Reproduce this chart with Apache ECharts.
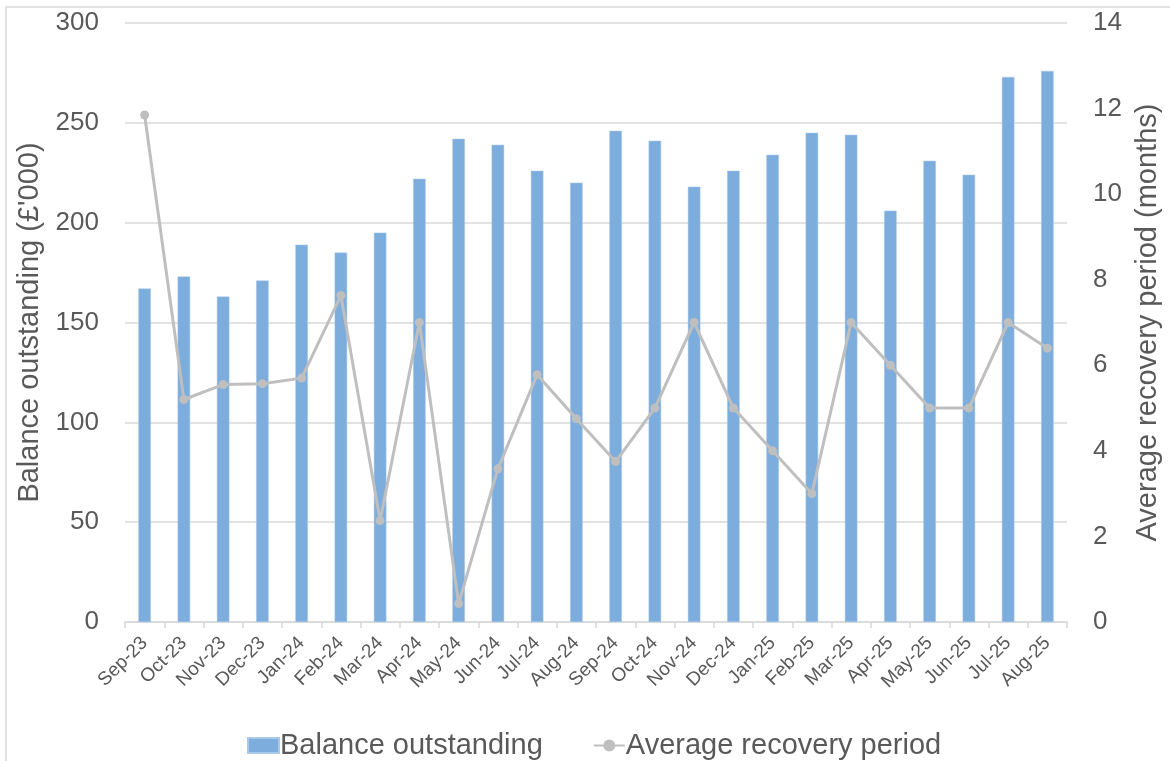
<!DOCTYPE html>
<html>
<head>
<meta charset="utf-8">
<script src="https://cdn.jsdelivr.net/npm/echarts@6/dist/echarts.min.js"></script>
<style>
html,body{margin:0;padding:0;background:#fff;overflow:hidden;}
#chart{width:1170px;height:761px;}
</style>
</head>
<body>
<div id="chart"></div>
<script>
const categories = ['Sep-23','Oct-23','Nov-23','Dec-23','Jan-24','Feb-24','Mar-24','Apr-24','May-24','Jun-24','Jul-24','Aug-24','Sep-24','Oct-24','Nov-24','Dec-24','Jan-25','Feb-25','Mar-25','Apr-25','May-25','Jun-25','Jul-25','Aug-25'];
const balanceOutstanding = [167,173,163,171,189,185,195,222,242,239,226,220,246,241,218,226,234,245,244,206,231,224,273,276];
const averageRecoveryPeriod = [11.85,5.2,5.55,5.57,5.7,7.63,2.37,7.0,0.43,3.58,5.78,4.75,3.75,5.0,7.0,5.0,4.0,3.0,7.0,6.0,5.0,5.0,7.0,6.4];
const leftTicks = {min:0, max:300, interval:50};
const rightTicks = {min:0, max:14, interval:2};

const FONT = "'Liberation Sans', Arial, sans-serif";
const TXT = '#595959';
const chart = echarts.init(document.getElementById('chart'));
chart.setOption({
  backgroundColor: '#ffffff',
  animation: false,
  textStyle: {fontFamily: FONT, color: TXT},
  graphic: [{
    type: 'rect', shape: {x: 6, y: 7, width: 1250, height: 850},
    style: {fill: 'none', stroke: '#D9D9D9', lineWidth: 1.5}, silent: true, z: -1
  }],
  grid: {left: 125, right: 95, top: 23, bottom: 139},
  legend: {
    left: 247, top: 731, padding: 0,
    itemWidth: 31, itemHeight: 15, itemGap: 50,
    textStyle: {fontFamily: FONT, fontSize: 29, color: TXT, padding: [0,0,0,-4]},
    data: [
      {name: 'Balance outstanding', icon: 'rect'},
      {name: 'Average recovery period'}
    ]
  },
  xAxis: {
    type: 'category', data: categories,
    axisLine: {lineStyle: {color: '#D9D9D9', width: 1.5}},
    axisTick: {show: true, length: 6, lineStyle: {color: '#D9D9D9', width: 1.5}},
    axisLabel: {rotate: 45, fontFamily: FONT, fontSize: 19, color: TXT, margin: 18, interval: 0}
  },
  yAxis: [{
    type: 'value', min: leftTicks.min, max: leftTicks.max, interval: leftTicks.interval,
    name: "Balance outstanding (£'000)", nameLocation: 'middle', nameGap: 69,
    nameTextStyle: {fontFamily: FONT, fontSize: 29, color: TXT},
    axisLine: {show: false}, axisTick: {show: false},
    axisLabel: {fontFamily: FONT, fontSize: 26, color: TXT, margin: 26},
    splitLine: {lineStyle: {color: '#D9D9D9', width: 1.5}}
  }, {
    type: 'value', min: rightTicks.min, max: rightTicks.max, interval: rightTicks.interval,
    name: 'Average recovery period (months)', nameLocation: 'middle', nameGap: 66,
    nameTextStyle: {fontFamily: FONT, fontSize: 29, color: TXT},
    axisLine: {show: false}, axisTick: {show: false},
    axisLabel: {fontFamily: FONT, fontSize: 26, color: TXT, margin: 26},
    splitLine: {show: false}
  }],
  series: [{
    name: 'Balance outstanding', type: 'bar', data: balanceOutstanding,
    yAxisIndex: 0, barWidth: 12.5,
    itemStyle: {color: '#7CADDC', borderColor: '#A8C9E8', borderWidth: 0.5}
  }, {
    name: 'Average recovery period', type: 'line', data: averageRecoveryPeriod,
    yAxisIndex: 1, symbol: 'circle', symbolSize: 9,
    lineStyle: {color: '#BFBFBF', width: 3},
    itemStyle: {color: '#BFBFBF'}
  }]
});
</script>
</body>
</html>
